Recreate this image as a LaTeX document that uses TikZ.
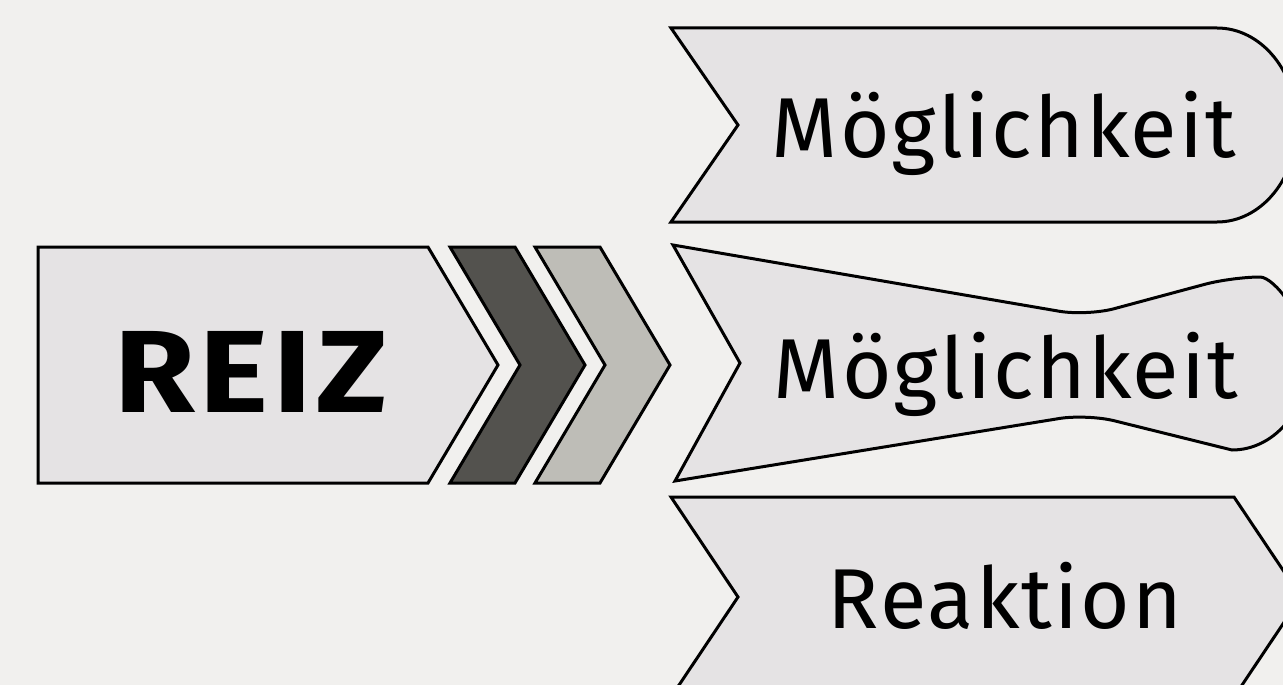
\documentclass[tikz,border=0pt]{standalone}
\usepackage{fontspec}
\setmainfont{Fira Sans}
\usepackage{tikz}
\usetikzlibrary{positioning}
\definecolor{paper}{HTML}{F1F0EE}
\definecolor{tafel}{HTML}{E5E3E4}
\definecolor{dunkel}{HTML}{53524E}
\definecolor{mittel}{HTML}{BEBDB7}

\begin{document}
\begin{tikzpicture}[x=1pt,y=-1pt,
  panel/.style={draw=black,line width=3pt,fill=tafel},
  lbl/.style={inner sep=0pt,anchor=base,font=\addfontfeatures{LetterSpace=2.5}\fontsize{85}{85}\selectfont}]
  \fill[paper] (0,0) rectangle (1283,685);
  \useasboundingbox (0,0) rectangle (1283,685);
  % Reiz und Pfeile
  \draw[panel] (38,247) -- (428,247) -- (498,365) -- (428,483) -- (38,483) -- cycle;
  \foreach \x/\c in {450/dunkel,535/mittel}{\draw[panel,fill=\c] (\x,247) -- (\x+65,247) -- (\x+135,365) -- (\x+65,483) -- (\x,483) -- (\x+70,365) -- cycle;}
  \node[lbl,font=\bfseries\addfontfeatures{FakeStretch=1.12,LetterSpace=4}\fontsize{117}{117}\selectfont] (reiz) at (251,412) {REIZ};
  % drei Wege
  \draw[panel] (671,28) -- (1217,28) arc[start angle=90,end angle=-90,x radius=80pt,y radius=97pt] -- (671,222) -- (738,125) -- cycle;
  \draw[panel] (673,245) [rounded corners=28pt] -- (1087,316) -- (1232,277) [sharp corners] arc[start angle=90,end angle=-90,x radius=75pt,y radius=86.5pt] [rounded corners=28pt] -- (1087,414) [sharp corners] -- (675,481) -- (740,363) -- cycle;
  \draw[panel] (671,497) -- (1234,497) -- (1301,597) -- (1234,697) -- (671,697) -- (738,597) -- cycle;
  \node[lbl] (weg1) at (1004,157) {Möglichkeit};
  \node[lbl] (weg2) at (1006,398) {Möglichkeit};
  \node[lbl] (weg3) at (1005,628) {Reaktion};
\end{tikzpicture}
\end{document}
